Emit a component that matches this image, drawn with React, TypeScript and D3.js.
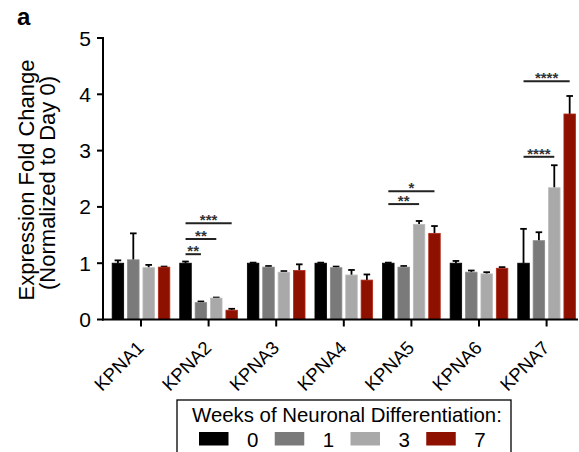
import { useMemo } from "react";
import { scaleBand, scaleLinear } from "d3";

const WIDTH = 579;
const HEIGHT = 452;
const FONT = "'Liberation Sans', Arial, Helvetica, sans-serif";

const categories = ["KPNA1", "KPNA2", "KPNA3", "KPNA4", "KPNA5", "KPNA6", "KPNA7"];
const weeks = ["0", "1", "3", "7"];
const weekColors = ["#000000", "#7a7a7a", "#a9a9a9", "#8e1100"];
const weekStrokes = ["#000000", "#8a8a8a", "#bcbcbc", "#b02a18"];

const week0 = [1.0, 1.0, 1.0, 1.0, 1.0, 1.0, 1.0];
const week1 = [1.06, 0.3, 0.93, 0.92, 0.93, 0.84, 1.4];
const week3 = [0.92, 0.38, 0.84, 0.79, 1.69, 0.81, 2.34];
const week7 = [0.93, 0.165, 0.87, 0.7, 1.53, 0.91, 3.65];

const week0Err = [0.05, 0.03, 0.01, 0.01, 0.01, 0.04, 0.61];
const week1Err = [0.47, 0.02, 0.02, 0.02, 0.02, 0.03, 0.15];
const week3Err = [0.05, 0.01, 0.02, 0.09, 0.06, 0.03, 0.4];
const week7Err = [0.01, 0.025, 0.11, 0.1, 0.13, 0.02, 0.32];

const yTicks = [0, 1, 2, 3, 4, 5];

// significance brackets: from week 0 bar to target week bar in a category
const sigCategory = ["KPNA2", "KPNA2", "KPNA2", "KPNA5", "KPNA5", "KPNA7", "KPNA7"];
const sigTarget = ["1", "3", "7", "3", "7", "3", "7"];
const sigLevel = [1.16, 1.43, 1.71, 2.05, 2.28, 2.89, 4.23];
const sigLabel = ["**", "**", "***", "**", "*", "****", "****"];

const means = [week0, week1, week3, week7];
const errs = [week0Err, week1Err, week3Err, week7Err];

export default function App() {
  const x = useMemo(
    () => scaleBand().domain(categories).range([107.2, 580.4]).paddingInner(0.135).paddingOuter(0.0675),
    []
  );
  const xInner = useMemo(
    () => scaleBand().domain(weeks).range([0, x.bandwidth()]).paddingInner(0.2).paddingOuter(0),
    [x]
  );
  const y = useMemo(() => scaleLinear().domain([0, 5]).range([319.5, 38]), []);
  const legendX = useMemo(() => scaleBand().domain(weeks).range([199, 502]), []);

  const axisX = 103;
  const axisY = y(0);
  const barCenter = (cat: string, wk: string) => (x(cat) ?? 0) + (xInner(wk) ?? 0) + xInner.bandwidth() / 2;

  return (
    <svg
      width={WIDTH}
      height={HEIGHT}
      viewBox={`0 0 ${WIDTH} ${HEIGHT}`}
      style={{ position: "absolute", left: 0, top: 0, background: "#fff" }}
      fontFamily={FONT}
    >
      <rect width={WIDTH} height={HEIGHT} fill="#fff" />
      <text x={17} y={25} fontSize={24} fontWeight="bold">a</text>

      {/* y title */}
      <g transform={`translate(33.5, 180) rotate(-90)`}>
        <text textAnchor="middle" fontSize={22}>Expression Fold Change</text>
      </g>
      <g transform={`translate(55, 183) rotate(-90)`}>
        <text textAnchor="middle" fontSize={22}>(Normalized to Day 0)</text>
      </g>

      {/* bars */}
      {categories.map((cat, ci) => (
        <g key={cat} transform={`translate(${x(cat)},0)`}>
          {weeks.map((wk, wi) => {
            const v = means[wi][ci];
            const top = v + errs[wi][ci];
            const bx = xInner(wk) ?? 0;
            const cx = bx + xInner.bandwidth() / 2;
            return (
              <g key={wk}>
                <line x1={cx} x2={cx} y1={y(v)} y2={y(top)} stroke="#000" strokeWidth={1.8} />
                <line x1={cx - 3.3} x2={cx + 3.3} y1={y(top)} y2={y(top)} stroke="#000" strokeWidth={1.8} />
                <rect
                  x={bx + 0.4}
                  y={y(v)}
                  width={xInner.bandwidth() - 0.8}
                  height={axisY - y(v)}
                  fill={weekColors[wi]}
                  stroke={weekStrokes[wi]}
                  strokeWidth={0.8}
                />
              </g>
            );
          })}
        </g>
      ))}

      {/* significance */}
      {sigCategory.map((cat, i) => {
        const x1 = barCenter(cat, "0");
        const x2 = barCenter(cat, sigTarget[i]);
        const ly = y(sigLevel[i]);
        return (
          <g key={i}>
            <line x1={x1} x2={x2} y1={ly} y2={ly} stroke="#222" strokeWidth={2} />
            <text x={(x1 + x2) / 2} y={ly + 2} textAnchor="middle" fontSize={15} fontWeight="bold" fill="#333">
              {sigLabel[i]}
            </text>
          </g>
        );
      })}

      {/* axes */}
      <line x1={axisX} x2={axisX} y1={y(5) - 1} y2={axisY + 1} stroke="#000" strokeWidth={2} />
      {yTicks.map((t) => (
        <g key={t}>
          <line x1={axisX - 6} x2={axisX} y1={y(t)} y2={y(t)} stroke="#000" strokeWidth={2} />
          <text x={91} y={y(t)} dy="0.36em" textAnchor="end" fontSize={21}>{t}</text>
        </g>
      ))}
      <line x1={axisX - 1} x2={578} y1={axisY} y2={axisY} stroke="#000" strokeWidth={2} />
      {categories.map((cat) => {
        const cx = (x(cat) ?? 0) + x.bandwidth() / 2;
        return (
          <g key={cat}>
            <line x1={cx} x2={cx} y1={axisY} y2={axisY + 7} stroke="#000" strokeWidth={2} />
            <text
              transform={`translate(${cx + 4}, 349) rotate(-45)`}
              textAnchor="end"
              fontSize={18.5}
            >
              {cat}
            </text>
          </g>
        );
      })}

      {/* legend */}
      <rect x={177} y={400} width={334} height={70} fill="#fff" stroke="#000" strokeWidth={1.3} />
      <text x={192} y={422} fontSize={20.4}>Weeks of Neuronal Differentiation:</text>
      {weeks.map((wk, wi) => {
        const lx = legendX(wk) ?? 0;
        return (
          <g key={wk}>
            <rect x={lx} y={432} width={29.5} height={13.5} fill={weekColors[wi]} />
            <text x={lx + 48} y={446.5} fontSize={20.5}>{wk}</text>
          </g>
        );
      })}
    </svg>
  );
}
